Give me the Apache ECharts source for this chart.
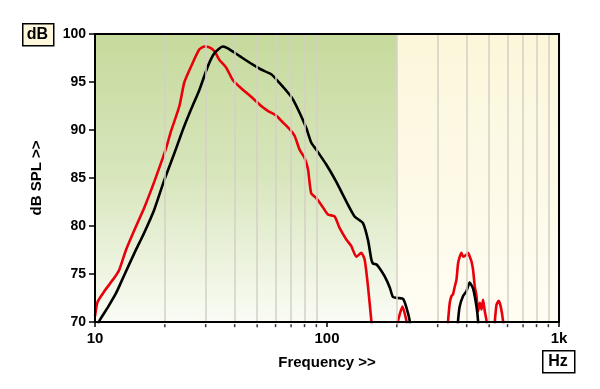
<!DOCTYPE html>
<html>
<head>
<meta charset="utf-8">
<script src="https://cdn.jsdelivr.net/npm/echarts@6/dist/echarts.min.js"></script>
<style>
html,body{margin:0;padding:0;background:#fff;}
#chart{width:600px;height:389px;}
</style>
</head>
<body>
<div id="chart"></div>
<script>
// ---- data ----
const xTickLabels = ['10', '100', '1k'];
const yTicks = [70, 75, 80, 85, 90, 95, 100];
const minorFreqs = [20, 30, 40, 50, 60, 70, 80, 90, 200, 300, 400, 500, 600, 700, 800, 900];
const bandSplitFreq = 200;

const redFreq1 = [10, 10.26, 10.97, 12.11, 12.73, 13.6, 14.8, 16.3, 18.0, 19.6, 20.25, 21.28, 23.11, 24.29, 26.38, 28.19, 29.63, 31.14, 32.73, 34.4, 36.76, 39.26, 41.96, 44.84, 47.89, 52.06, 55.58, 60.42, 64.53, 68.97, 72.47, 76.2, 80.0, 82.8, 85.5, 89.9, 94.5, 100.9, 107.8, 113.3, 121.1, 127.3, 133.8, 140.6, 145.3, 150.2, 155.3, 156.5];
const redDb1 = [70.6, 72.1, 73.2, 74.6, 75.45, 77.5, 79.6, 81.9, 84.6, 87.1, 88.1, 89.9, 92.5, 95.0, 97.0, 98.4, 98.7, 98.6, 98.2, 97.3, 96.5, 95.2, 94.5, 93.9, 93.3, 92.5, 92.0, 91.5, 90.8, 90.1, 89.4, 87.95, 87.1, 85.9, 83.4, 82.9, 82.2, 81.2, 81.0, 79.8, 78.6, 77.9, 76.8, 77.2, 76.5, 73.7, 70.1, 69.0];
const redFreq2 = [199, 202.3, 211.5, 220, 223];
const redDb2 = [69.0, 70.1, 71.6, 70.1, 69.0];
const redFreq3 = [330, 332.5, 338.2, 344.0, 349.5, 355.4, 361.4, 367.2, 373.5, 379.8, 385.9, 399.2, 405.6, 412.5, 419.6, 426.3, 433.5, 441.0, 448.0, 455.6, 463.4, 470.8, 478.9, 487.1, 490];
const redDb3 = [69.0, 70.1, 72.0, 72.7, 72.9, 73.7, 74.4, 76.1, 76.8, 77.2, 76.8, 77.0, 77.2, 76.8, 76.3, 75.4, 73.7, 72.7, 71.1, 72.0, 71.3, 72.3, 71.1, 70.1, 69.0];
const redFreq4 = [526, 529, 538, 550, 561, 574, 578];
const redDb4 = [69.0, 70.1, 71.8, 72.2, 71.6, 70.1, 69.0];

const blackFreq1 = [10.3, 10.43, 11.34, 12.32, 13.38, 14.8, 16.3, 18.0, 19.9, 22.0, 23.9, 25.9, 28.2, 30.6, 32.7, 35.6, 37.4, 42.0, 47.9, 52.0, 57.5, 62.4, 68.9, 71.3, 76.2, 81.4, 85.5, 89.9, 99.3, 109.7, 119.1, 131.5, 142.9, 150.3, 155.3, 157.8, 163.2, 168.5, 177.3, 186.4, 192.5, 202.3, 212.8, 220, 227.4, 229];
const blackDb1 = [69.7, 70.1, 71.5, 73.0, 74.9, 77.2, 79.3, 81.7, 84.8, 87.6, 90.0, 92.1, 94.2, 96.6, 98.0, 98.7, 98.5, 97.7, 96.8, 96.3, 95.8, 94.9, 93.7, 93.2, 91.8, 90.2, 88.7, 87.95, 86.4, 84.6, 82.9, 81.0, 80.3, 78.5, 76.5, 76.1, 76.0, 75.6, 74.75, 73.6, 72.6, 72.5, 72.4, 71.5, 70.1, 69.0];
const blackFreq2 = [365, 367, 373, 386, 399, 412, 426, 441, 448, 450];
const blackDb2 = [69.0, 70.1, 71.6, 72.7, 73.2, 74.1, 73.5, 71.6, 70.1, 69.0];

// ---- build ----
function pairs(f, d) { return f.map((v, i) => [v, d[i]]); }
const FONT = 'Arial, "Liberation Sans", sans-serif';

function curve(name, color, f, d, z) {
  return {
    name: name, type: 'line', data: pairs(f, d), showSymbol: false, symbol: 'none',
    smooth: 0.2, clip: true, z: z, animation: false,
    lineStyle: { color: color, width: 2.6 }
  };
}

const chart = echarts.init(document.getElementById('chart'), null, { renderer: 'canvas' });
const option = {
  animation: false,
  backgroundColor: '#ffffff',
  grid: {
    left: 95, right: 41, top: 34, bottom: 67,
    show: true, borderColor: '#000', borderWidth: 2, backgroundColor: 'transparent', z: 10
  },
  xAxis: {
    type: 'log', logBase: 10, min: 10, max: 1000,
    name: 'Frequency >>', nameLocation: 'middle', nameGap: 33,
    nameTextStyle: { fontFamily: FONT, fontWeight: 'bold', fontSize: 15, color: '#000' },
    axisLine: { show: false },
    axisTick: { show: true, length: 5, lineStyle: { color: '#000', width: 1.5 } },
    axisLabel: {
      margin: 9, fontFamily: FONT, fontWeight: 'bold', fontSize: 15, color: '#000',
      formatter: function (v) { const r = Math.round(v); return r === 10 ? xTickLabels[0] : r === 100 ? xTickLabels[1] : xTickLabels[2]; }
    },
    splitLine: { show: true, lineStyle: { color: '#a9a9a9', width: 1.2 } }
  },
  yAxis: {
    type: 'value', min: yTicks[0], max: yTicks[yTicks.length - 1], interval: 5,
    name: 'dB SPL >>', nameLocation: 'middle', nameGap: 51, nameRotate: 90,
    nameTextStyle: { fontFamily: FONT, fontWeight: 'bold', fontSize: 15, color: '#000' },
    axisLine: { show: false },
    axisTick: { show: true, length: 6, lineStyle: { color: '#000', width: 1.5 } },
    axisLabel: { margin: 9, fontFamily: FONT, fontWeight: 'bold', fontSize: 14, color: '#000' },
    splitLine: { show: true, lineStyle: { color: '#a4a4a4', width: 1 } }
  },
  series: [
    {
      type: 'scatter', z: 1, clip: false, silent: true, animation: false,
      symbol: 'rect', symbolSize: [1.5, 3],
      itemStyle: { color: '#000' },
      data: minorFreqs.map(f => [f, 69.62]),
      markArea: {
        silent: true,
        data: [
          [{ xAxis: 10, itemStyle: { color: { type: 'linear', x: 0, y: 0, x2: 0, y2: 1, colorStops: [
              { offset: 0, color: '#c6da9c' }, { offset: 0.5, color: '#d8e6bd' }, { offset: 1, color: '#fafcf5' }] } } },
           { xAxis: bandSplitFreq }],
          [{ xAxis: bandSplitFreq, itemStyle: { color: { type: 'linear', x: 0, y: 0, x2: 0, y2: 1, colorStops: [
              { offset: 0, color: '#fcf6da' }, { offset: 1, color: '#fffdf4' }] } } },
           { xAxis: 1000 }]
        ]
      },
      markLine: {
        silent: true, symbol: ['none', 'none'], label: { show: false },
        lineStyle: { color: '#d3d0c4', width: 1.5, type: 'solid' },
        emphasis: { disabled: true },
        data: minorFreqs.map(f => ({ xAxis: f }))
      }
    },
    curve('red1', '#e8000b', redFreq1, redDb1, 3),
    curve('red2', '#e8000b', redFreq2, redDb2, 3),
    curve('red3', '#e8000b', redFreq3, redDb3, 3),
    curve('red4', '#e8000b', redFreq4, redDb4, 3),
    curve('black1', '#000000', blackFreq1, blackDb1, 4),
    curve('black2', '#000000', blackFreq2, blackDb2, 4)
  ],
  graphic: [
    { type: 'rect', left: 22, top: 23, shape: { width: 31, height: 22 }, z: 20,
      style: { fill: '#fdf8dc', stroke: '#000', lineWidth: 1.5 } },
    { type: 'text', x: 37.5, y: 34.5, z: 21,
      style: { text: 'dB', fontFamily: FONT, fontWeight: 'bold', fontSize: 16, fill: '#000',
               textAlign: 'center', textVerticalAlign: 'middle' } },
    { type: 'rect', left: 542, top: 350, shape: { width: 32, height: 22 }, z: 20,
      style: { fill: '#ffffff', stroke: '#000', lineWidth: 1.5 } },
    { type: 'text', x: 558, y: 361.5, z: 21,
      style: { text: 'Hz', fontFamily: FONT, fontWeight: 'bold', fontSize: 16, fill: '#000',
               textAlign: 'center', textVerticalAlign: 'middle' } }
  ]
};
chart.setOption(option);
</script>
</body>
</html>
